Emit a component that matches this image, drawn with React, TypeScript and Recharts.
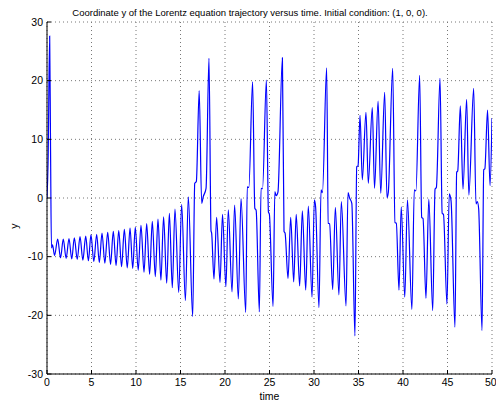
import { LineChart, Line, XAxis, YAxis, CartesianGrid } from 'recharts';

// values, three phases of the trajectory
const earlyT = [0, 0.12, 0.3, 0.4, 0.5, 0.62, 0.85, 1.2, 1.52, 1.83, 2.15, 2.47, 2.78, 3.07, 3.4, 3.71, 4.03, 4.35, 4.65, 4.94, 5.26, 5.58, 5.88, 6.18, 6.5, 6.82, 7.14, 7.45, 7.76, 8.06, 8.38, 8.69, 9.02, 9.33, 9.63, 9.92, 10.25, 10.56, 10.9, 11.2, 11.53, 11.83, 12.17, 12.47, 12.8, 13.1, 13.45, 13.75, 14.08, 14.38, 14.8, 15.13, 15.55, 15.88, 16.37];
const earlyY = [0, 6, 27.6, 8, -8.5, -8.0, -9.8, -7.0, -10.2, -7.0, -10.3, -6.9, -10.4, -6.8, -10.45, -6.6, -10.6, -6.5, -10.7, -6.3, -10.85, -6.2, -11.0, -6.0, -11.1, -5.85, -11.3, -5.7, -11.5, -5.55, -11.7, -5.35, -11.9, -5.15, -12.0, -5.0, -12.3, -4.65, -12.65, -4.35, -13.0, -4.0, -13.4, -3.6, -14.0, -3.2, -14.5, -2.6, -15.3, -1.9, -16.1, -1.1, -17.5, 0.2, -20.2];

const midT = [16.6, 16.78, 17.1, 17.38, 17.55, 17.87, 18.2, 18.43, 18.5, 18.76, 19.06, 19.44, 19.72, 20.1, 20.37, 20.79, 21.08, 21.5, 21.8, 22.33, 22.5, 22.68, 23.1, 23.35, 23.5, 23.86, 24.05, 24.22, 24.65, 24.88, 24.98, 25.4, 25.6, 25.75, 25.95, 26.45, 26.63, 26.75, 27.08, 27.38, 27.72, 28.0, 28.39, 28.69, 29.07, 29.36, 29.78, 30.04, 30.18, 30.56, 30.79, 30.95, 31.42, 31.6, 31.75, 32.1, 32.4, 32.8, 33.07, 33.6, 33.82, 34.0, 34.25, 34.6];
const midY = [2.5, 2.8, 18.3, -0.9, 0.2, 1.65, 23.8, -5.6, -6.0, -13.8, -3.3, -14.4, -2.8, -15.1, -2.0, -16.0, -1.2, -17.2, -0.1, -19.5, 1.9, 1.8, 19.8, -1.75, -2.1, -19.4, 1.65, 1.6, 20.1, -2.4, -2.7, -18.5, 1.1, 0.4, 1.0, 23.9, -5.7, -6.0, -13.7, -3.3, -14.3, -2.8, -15.0, -2.2, -15.7, -1.4, -16.9, -0.3, -1.5, -18.7, 1.4, 0.9, 22.2, -4.3, -4.4, -15.6, -1.6, -16.5, -0.6, -18.4, 0.9, 0.0, -0.9, -23.5];

const lateT = [34.8, 34.95, 35.17, 35.43, 35.84, 36.1, 36.55, 36.8, 37.2, 37.5, 37.94, 38.2, 38.35, 38.84, 39.1, 39.25, 39.55, 39.8, 40.2, 40.5, 41.0, 41.27, 41.45, 41.87, 42.1, 42.25, 42.58, 42.9, 43.34, 43.6, 43.75, 44.16, 44.4, 44.55, 44.94, 45.2, 45.4, 45.84, 46.03, 46.15, 46.44, 46.74, 47.15, 47.4, 47.94, 48.2, 48.35, 48.5, 48.88, 49.07, 49.2, 49.5, 49.78, 50.0];
const lateY = [5.3, 5.5, 14.1, 3.1, 14.6, 2.5, 15.4, 1.65, 16.5, 0.8, 18.0, 0.05, 1.0, 22.1, -4.2, -4.3, -15.7, -1.5, -16.9, -0.3, -19.0, 1.4, 1.2, 20.9, -3.3, -3.5, -17.1, -0.2, -19.2, 1.5, 1.8, 20.4, -2.6, -2.8, -18.1, 0.7, -0.5, -22.0, 4.4, 4.6, 15.7, 1.5, 16.8, 0.5, 18.7, -1.0, -0.6, -1.8, -22.6, 4.8, 5.0, 15.0, 2.1, 13.6];

const xTicks = [0, 5, 10, 15, 20, 25, 30, 35, 40, 45, 50];
const yTicks = [-30, -20, -10, 0, 10, 20, 30];

const times = [...earlyT, ...midT, ...lateT];
const yVals = [...earlyY, ...midY, ...lateY];
const data = times.map((t, i) => ({ t, y: yVals[i] }));

const font = '"Liberation Sans", Arial, sans-serif';
const noLabel = () => <g />;

export default function App() {
  return (
    <div style={{ position: 'absolute', left: 0, top: 0, width: 496, height: 403, background: '#fff', fontFamily: font }}>
      <LineChart width={496} height={403} data={data} margin={{ top: 22, right: 4, bottom: 0, left: 0 }}>
        <CartesianGrid stroke="#777" strokeDasharray="1 3" />
        <XAxis
          dataKey="t"
          type="number"
          domain={[0, 50]}
          ticks={xTicks}
          allowDataOverflow
          height={29}
          tickSize={-4}
          tickMargin={9}
          axisLine={{ stroke: '#000' }}
          tickLine={{ stroke: '#000' }}
          tick={{ fontSize: 10.5, fill: '#000', fontFamily: font }}
        />
        <XAxis
          xAxisId="top"
          orientation="top"
          type="number"
          domain={[0, 50]}
          ticks={xTicks}
          allowDataOverflow
          height={0}
          tickSize={-4}
          axisLine={{ stroke: '#000' }}
          tickLine={{ stroke: '#000' }}
          tick={noLabel}
        />
        <YAxis
          type="number"
          domain={[-30, 30]}
          ticks={yTicks}
          allowDataOverflow
          width={47}
          tickSize={-4}
          tickMargin={8}
          axisLine={{ stroke: '#000' }}
          tickLine={{ stroke: '#000' }}
          tick={{ fontSize: 10.5, fill: '#000', fontFamily: font }}
        />
        <YAxis
          yAxisId="right"
          orientation="right"
          type="number"
          domain={[-30, 30]}
          ticks={yTicks}
          allowDataOverflow
          width={0}
          tickSize={-4}
          axisLine={{ stroke: '#000' }}
          tickLine={{ stroke: '#000' }}
          tick={noLabel}
        />
        <Line
          dataKey="y"
          type="monotone"
          stroke="#0000ff"
          strokeWidth={1.2}
          dot={false}
          isAnimationActive={false}
        />
      </LineChart>
      <div style={{ position: 'absolute', left: 250, top: 7, transform: 'translateX(-50%)', whiteSpace: 'nowrap', fontSize: 9.5, lineHeight: '11px' }}>
        Coordinate y of the Lorentz equation trajectory versus time. Initial condition: (1, 0, 0).
      </div>
      <div style={{ position: 'absolute', left: 269.5, top: 390, transform: 'translateX(-50%)', fontSize: 10.5, lineHeight: '12px' }}>
        time
      </div>
      <div style={{ position: 'absolute', left: 14, top: 226, transform: 'translate(-50%, -50%) rotate(-90deg)', fontSize: 10.5, lineHeight: '12px' }}>
        y
      </div>
    </div>
  );
}
